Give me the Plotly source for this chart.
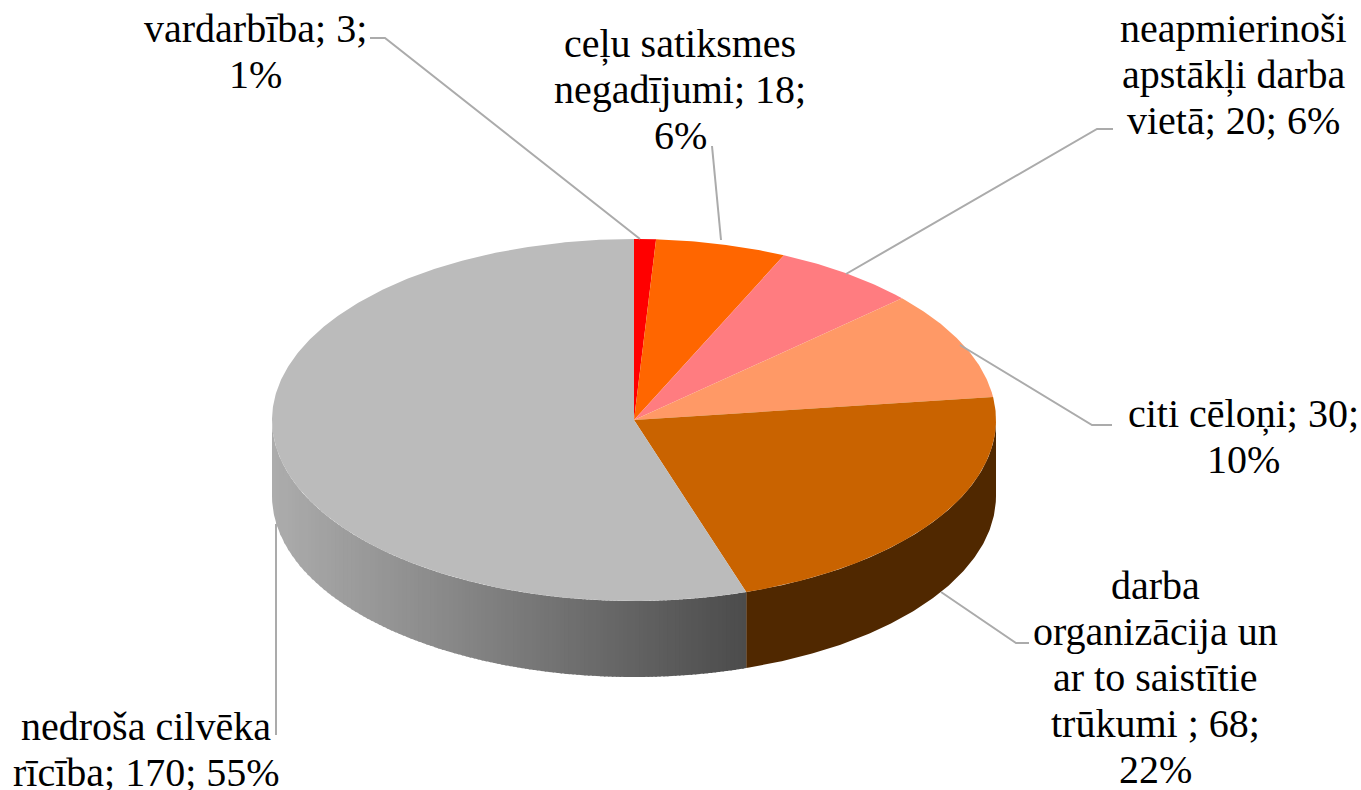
import math
import plotly.graph_objects as go

W, H = 1361, 790

# Data, clockwise from 12 o'clock
categories = ["vardarbība", "ceļu satiksmes negadījumi", "neapmierinoši apstākļi darba vietā",
              "citi cēloņi", "darba organizācija un ar to saistītie trūkumi ", "nedroša cilvēka rīcība"]
values = [3, 18, 20, 30, 68, 170]
percents = ["1%", "6%", "6%", "10%", "22%", "55%"]
label_lines = [
    ["vardarbība; 3;", "1%"],
    ["ceļu satiksmes", "negadījumi; 18;", "6%"],
    ["neapmierinoši", "apstākļi darba", "vietā; 20; 6%"],
    ["citi cēloņi; 30;", "10%"],
    ["darba", "organizācija un", "ar to saistītie", "trūkumi ; 68;", "22%"],
    ["nedroša cilvēka", "rīcība; 170; 55%"],
]

# Style and layout
top_colors = ["#FF0000", "#FF6600", "#FF7C80", "#FF9966", "#C96300", "#BBBBBB"]
brown_side = "#502800"
gray_side_left = (172, 172, 172)
gray_side_right = (76, 76, 76)
CX, CY, RX, RY, DEPTH = 634, 420, 362, 181, 76
FONT = "Liberation Serif"
FONT_SIZE = 40
LINE_PITCH = 46
# centre x and middle y of each label's first line
label_pos = [(255, 28), (680, 43), (1233, 28), (1243, 413), (1155, 585), (146, 726)]
leader_color = "#ABABAB"
leaders = [
    [(370, 38), (385, 38), (640, 239)],
    [(712, 146), (721, 240)],
    [(1113, 129), (1097, 129), (846, 274)],
    [(1112, 425), (1092, 425), (960, 345)],
    [(1029, 643), (1016, 643), (941, 592)],
    [(276, 735), (276, 524)],
]


def pt(deg, dy=0):
    r = math.radians(deg)
    return CX + RX * math.sin(r), CY - RY * math.cos(r) + dy


def arc(a0, a1, step=0.5):
    n = max(2, int(abs(a1 - a0) / step) + 1)
    return [a0 + (a1 - a0) * i / (n - 1) for i in range(n)]


total = sum(values)
bounds = [0]
for v in values:
    bounds.append(bounds[-1] + v / total * 360)

fig = go.Figure()


def poly(points, color):
    fig.add_trace(go.Scatter(
        x=[p[0] for p in points], y=[p[1] for p in points],
        mode="lines", fill="toself", fillcolor=color,
        line=dict(color=color, width=0), hoverinfo="skip", showlegend=False))


# Side wall: brown slice, from the right edge to the slice boundary
a = arc(90, bounds[5])
poly([pt(t) for t in a] + [pt(t, DEPTH) for t in reversed(a)], brown_side)

# Side wall: grey slice, vertical strips shaded from left to right
x_left, x_right = CX - RX, pt(bounds[5])[0]
N = 120
OVERLAP = 1.5
for i in range(N):
    x0 = x_left + (x_right - x_left) * i / N
    x1 = min(x_right, x0 + (x_right - x_left) / N + OVERLAP)
    t0 = 180 - math.degrees(math.asin(max(-1, (x0 - CX) / RX)))
    t1 = 180 - math.degrees(math.asin(min(1, (x1 - CX) / RX)))
    f = i / (N - 1)
    c = [round(l + (r - l) * f) for l, r in zip(gray_side_left, gray_side_right)]
    sub = arc(t0, t1, 0.4)
    poly([pt(t) for t in sub] + [pt(t, DEPTH) for t in reversed(sub)],
         f"rgb({c[0]},{c[1]},{c[2]})")

# Top faces
for i in range(len(values)):
    a = arc(bounds[i], bounds[i + 1])
    poly([(CX, CY)] + [pt(t) for t in a], top_colors[i])

shapes = []
for seg in leaders:
    path = "M " + " L ".join(f"{x},{y}" for x, y in seg)
    shapes.append(dict(type="path", path=path, xref="x", yref="y",
                       line=dict(color=leader_color, width=2)))

annotations = []
for (x, y), lines in zip(label_pos, label_lines):
    for k, line in enumerate(lines):
        annotations.append(dict(
            x=x, y=y + k * LINE_PITCH, xref="x", yref="y", text=line, showarrow=False,
            xanchor="center", yanchor="middle", align="center",
            font=dict(family=FONT, size=FONT_SIZE, color="black")))

fig.update_layout(
    width=W, height=H, margin=dict(l=0, r=0, t=0, b=0),
    paper_bgcolor="white", plot_bgcolor="white", showlegend=False,
    xaxis=dict(range=[0, W], visible=False, fixedrange=True),
    yaxis=dict(range=[H, 0], visible=False, fixedrange=True),
    shapes=shapes, annotations=annotations,
)
fig.write_html("out.html", config=dict(displayModeBar=False),
               post_script="document.body.style.margin='0';document.documentElement.style.overflow='hidden';")
